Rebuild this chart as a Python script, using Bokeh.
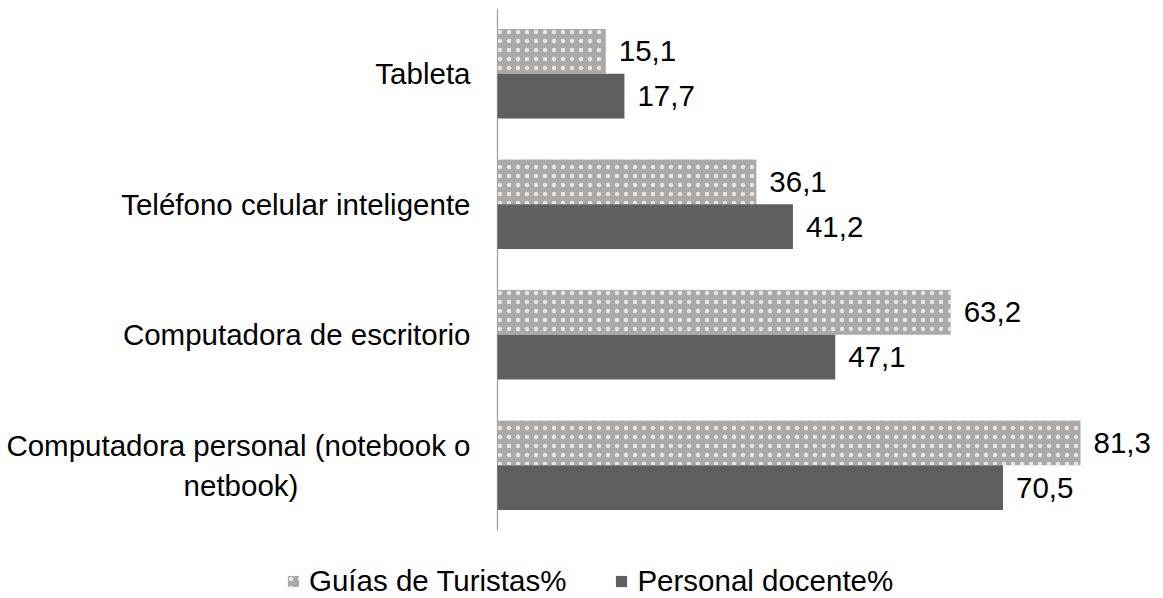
from bokeh.plotting import figure
from bokeh.models import Range1d, ColumnDataSource, Legend, LegendItem
from bokeh.core.properties import value
from bokeh.embed import file_html
from bokeh.resources import INLINE

# Data (bottom to top)
categories = [
    "Computadora personal (notebook o\nnetbook)",
    "Computadora de escritorio",
    "Teléfono celular inteligente",
    "Tableta",
]
guias = [81.3, 63.2, 36.1, 15.1]
docente = [70.5, 47.1, 41.2, 17.7]
series_names = ["Guías de Turistas%", "Personal docente%"]

def fmt(v):
    return f"{v:.1f}".replace(".", ",")

def cat_label(c):
    # centre the wrapped lines under the first one (non-breaking space padding)
    lines = c.split("\n")
    if len(lines) == 1:
        return c
    first = lines[0]
    out = [first]
    for ln in lines[1:]:
        pad = round((len(first) - len(ln)) * 0.5 * 1.75)
        out.append(ln + "\u00a0" * pad)
    return "\n".join(out)

bh = 0.3425
off = bh / 2
idx = list(range(len(categories)))

src = ColumnDataSource(dict(
    y=idx,
    y_top=[i + off for i in idx],
    y_bot=[i - off for i in idx],
    cat_lbl=[cat_label(c) for c in categories],
    zero=[0] * len(categories),
    guias=guias,
    docente=docente,
    guias_lbl=[fmt(v) for v in guias],
    docente_lbl=[fmt(v) for v in docente],
))

FONT = "Liberation Sans"
FS = "29.5px"

p = figure(
    width=1160, height=598,
    y_range=Range1d(-1.0211, len(categories) - 0.5),
    x_range=Range1d(-69.31, 92.46),
    output_backend="svg", toolbar_location=None,
    min_border_left=0, min_border_right=0,
    min_border_top=8, min_border_bottom=0,
)
p.outline_line_color = None
p.xgrid.visible = False
p.ygrid.visible = False
p.xaxis.visible = False
p.yaxis.visible = False

# category axis line
p.segment(x0=[0], y0=[-0.5], x1=[0], y1=[len(categories) - 0.5],
          line_color="#a3a3a3", line_width=1.3)

r1 = p.hbar(y="y_top", right="guias", left=0, height=bh,
            source=src, fill_color="#aca8a6", line_color=None,
            hatch_pattern=".", hatch_color="white", hatch_scale=9, hatch_weight=1.0, hatch_alpha=0.7)
r2 = p.hbar(y="y_bot", right="docente", left=0, height=bh,
            source=src, fill_color="#5f5f5f", line_color=None)

p.text(x="guias", y="y_top", text="guias_lbl", source=src,
       x_offset=13, text_align="left", text_baseline="middle",
       text_font=value(FONT), text_font_size=FS, text_color="#000000")
p.text(x="docente", y="y_bot", text="docente_lbl", source=src,
       x_offset=13, text_align="left", text_baseline="middle",
       text_font=value(FONT), text_font_size=FS, text_color="#000000")

# category labels
p.text(x="zero", y="y", text="cat_lbl", source=src,
       x_offset=-27, text_align="right", text_baseline="middle",
       text_font=value(FONT), text_font_size=FS, text_color="#000000")

legend = Legend(
    items=[LegendItem(label=series_names[0], renderers=[r1]),
           LegendItem(label=series_names[1], renderers=[r2])],
    orientation="horizontal",
    location=(286, 0),
    label_text_font=FONT, label_text_font_size=FS, label_text_color="#000000",
    glyph_width=14, glyph_height=14, label_standoff=9, spacing=48,
    padding=0, margin=0, border_line_color=None, background_fill_alpha=0,
)
p.add_layout(legend, "center")

open("out.html", "w").write(file_html(p, INLINE))
